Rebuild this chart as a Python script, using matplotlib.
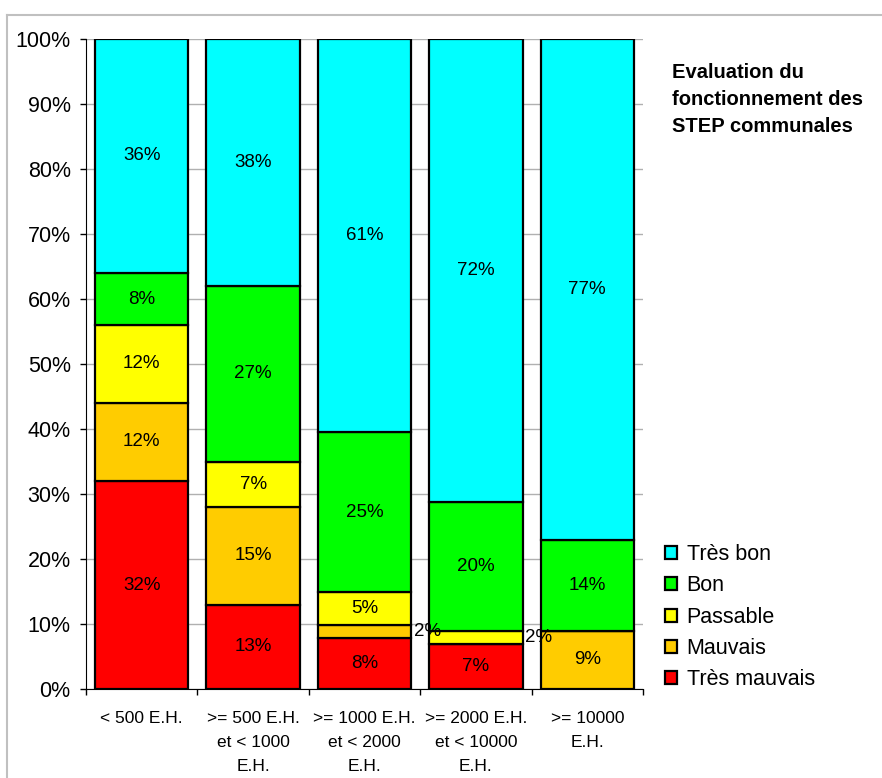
import matplotlib
matplotlib.use("Agg")
import matplotlib.pyplot as plt
import numpy as np
from matplotlib.patches import Patch
from matplotlib.lines import Line2D

plt.rcParams['font.family'] = ['Liberation Sans', 'DejaVu Sans']

categories = ["< 500 E.H.",
              ">= 500 E.H.\net < 1000\nE.H.",
              ">= 1000 E.H.\net < 2000\nE.H.",
              ">= 2000 E.H.\net < 10000\nE.H.",
              ">= 10000\nE.H."]

series_names = ["Très mauvais", "Mauvais", "Passable", "Bon", "Très bon"]
tres_mauvais = [32, 13, 8, 7, 0]
mauvais = [12, 15, 2, 0, 9]
passable = [12, 7, 5, 2, 0]
bon = [8, 27, 25, 20, 14]
tres_bon = [36, 38, 61, 72, 77]
colors = ["#FF0000", "#FFCC00", "#FFFF00", "#00FF00", "#00FFFF"]

title = "Evaluation du\nfonctionnement des\nSTEP communales"

W, H = 882, 778
fig = plt.figure(figsize=(W / 100, H / 100), dpi=100)
ax = fig.add_axes([86 / W, 1 - 689 / H, (643 - 86) / W, (689 - 39) / H])

data = np.array([tres_mauvais, mauvais, passable, bon, tres_bon], dtype=float)
totals = data.sum(axis=0)
shares = data / totals * 100

x = np.arange(len(categories))
bar_w = 0.84
bottom = np.zeros(len(categories))
for i, name in enumerate(series_names):
    vals = shares[i]
    ax.bar(x, vals, bar_w, bottom=bottom, color=colors[i], edgecolor="black",
           linewidth=1.6, label=name, zorder=3)
    for j, v in enumerate(vals):
        if data[i, j] <= 0:
            continue
        yc = bottom[j] + v / 2
        txt = f"{int(data[i, j])}%"
        if v < 3:
            ax.text(x[j] + bar_w / 2 + 0.02, yc, txt, ha="left", va="center",
                    fontsize=13.5, zorder=5)
        else:
            ax.text(x[j], yc, txt, ha="center", va="center", fontsize=13.5, zorder=5)
    bottom += vals

ax.set_xlim(-0.5, len(categories) - 0.5)
ax.set_ylim(0, 100)
ax.set_yticks(np.arange(0, 101, 10))
ax.set_yticklabels([f"{t}%" for t in range(0, 101, 10)], fontsize=15.5)
ax.set_xticks(x)
ax.set_xticklabels(categories, fontsize=12.5, linespacing=1.75)
ax.tick_params(axis="x", length=0, pad=16)
ax.set_xticks(np.arange(-0.5, len(categories)), minor=True)
ax.tick_params(axis="x", which="minor", length=4, direction="out", width=1)
ax.tick_params(axis="y", length=4, width=1, pad=7)
ax.yaxis.grid(True, color="#b0b0b0", linewidth=1, zorder=0)
ax.set_axisbelow(True)
for s in ["top", "right"]:
    ax.spines[s].set_visible(False)
ax.spines["left"].set_color("black")
ax.spines["bottom"].set_color("black")

handles = [Patch(facecolor=colors[i], edgecolor="black", linewidth=1.6, label=series_names[i])
           for i in range(len(series_names) - 1, -1, -1)]
ax.legend(handles=handles, loc="upper left", bbox_to_anchor=(665 / W, 1 - 544 / H),
          bbox_transform=fig.transFigure, frameon=False, fontsize=15.5,
          handlelength=0.55, handleheight=0.55, handletextpad=0.45,
          labelspacing=0.48, borderpad=0, borderaxespad=0)

fig.text(672 / W, 1 - 63 / H, title, ha="left", va="top", fontsize=14.5,
         fontweight="bold", linespacing=1.55)

# outer frame lines
fig.add_artist(Line2D([6.5 / W, 1], [1 - 14.5 / H, 1 - 14.5 / H], color="#c0c0c0",
                      linewidth=1.5, transform=fig.transFigure))
fig.add_artist(Line2D([6.5 / W, 6.5 / W], [0, 1 - 14.5 / H], color="#c0c0c0",
                      linewidth=1.5, transform=fig.transFigure))

fig.savefig("out.png", dpi=100, facecolor="white")
